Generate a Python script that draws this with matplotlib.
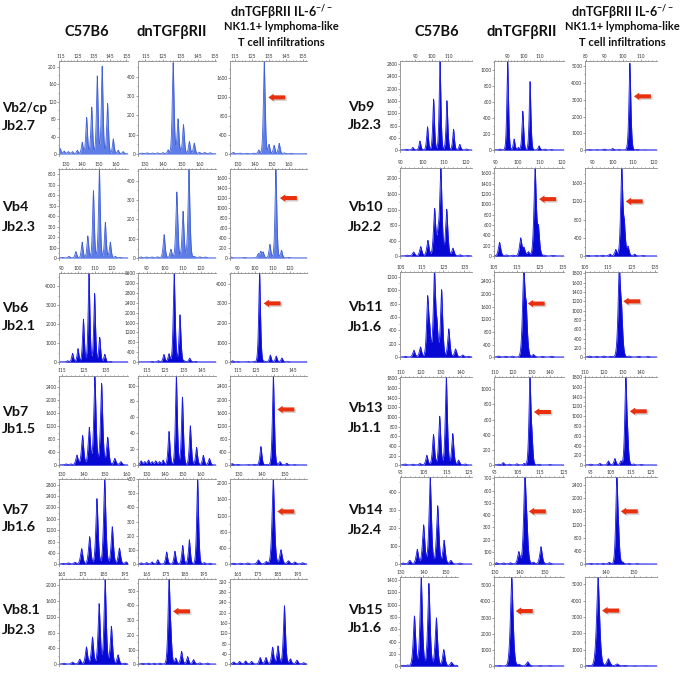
import numpy as np
import matplotlib
matplotlib.use('Agg')
import matplotlib.pyplot as plt
from matplotlib.ticker import AutoMinorLocator, FixedLocator
from matplotlib.transforms import offset_copy

# ------------------------------------------------------------------ data
# column headers and row labels
col_headers = ['C57B6', 'dnTGFβRII']
col3_header = ['dnTGFβRII IL-6$^{-/-}$', 'NK1.1+ lymphoma-like', 'T cell infiltrations']
left_labels = [('Vb2/cp', 'Jb2.7'), ('Vb4', 'Jb2.3'), ('Vb6', 'Jb2.1'),
               ('Vb7', 'Jb1.5'), ('Vb7', 'Jb1.6'), ('Vb8.1', 'Jb2.3')]
right_labels = [('Vb9', 'Jb2.3'), ('Vb10', 'Jb2.2'), ('Vb11', 'Jb1.6'),
                ('Vb13', 'Jb1.1'), ('Vb14', 'Jb2.4'), ('Vb15', 'Jb1.6')]

# ---- Vb2/cp Jb2.7
vb2_c57_x = [114.5, 117, 119.5, 122, 125, 128, 130.7, 133.8, 137.2, 140.2, 143.5, 147, 150, 153]
vb2_c57_h = [12, 6, 5, 5, 8, 26, 83, 107, 178, 200, 115, 34, 8, 5]
vb2_dn_x = [113, 116, 119, 122, 125, 128, 130.9, 133.7, 136.8, 140.2, 143, 146, 149, 152]
vb2_dn_h = [4, 5, 4, 5, 6, 20, 470, 180, 150, 63, 55, 8, 7, 6]
vb2_il6_x = [114, 118, 122, 126, 129, 132.2, 135, 138, 141, 144, 148]
vb2_il6_h = [30, 15, 10, 15, 80, 1970, 200, 180, 220, 20, 10]
vb2_xticks = [[115, 125, 135, 145, 155]] * 3
vb2_xlims = [(113.8, 156), (110.7, 155.5), (112, 157.4)]
vb2_ytops = [213, 480, 1970]
vb2_ysteps = [40, 100, 400]
vb2_arrows = [None, None, 1200]

# ---- Vb4 Jb2.3
vb4_c57_x = [128, 132, 136.2, 140, 143.4, 146.8, 150.4, 154, 157, 160, 163]
vb4_c57_h = [5, 15, 60, 150, 210, 640, 850, 340, 150, 15, 5]
vb4_dn_x = [128, 131, 134, 137, 140.6, 144.3, 147.5, 150.9, 154.1, 157, 160, 163]
vb4_dn_h = [5, 5, 5, 6, 120, 45, 340, 240, 460, 8, 6, 5]
vb4_il6_x = [126, 134, 142.1, 143.6, 145, 149, 152.5, 155.8, 160]
vb4_il6_h = [20, 10, 80, 120, 110, 270, 1780, 150, 10]
vb4_xticks = [[130, 140, 150, 160]] * 3
vb4_xlims = [(126, 167.7), (126.4, 168.8), (125.5, 170.8)]
vb4_ytops = [850, 460, 1780]
vb4_ysteps = [100, 100, 200]
vb4_arrows = [None, None, 1200]

# ---- Vb6 Jb2.1
vb6_c57_x = [93.9, 96.8, 100, 103.2, 106.5, 109.8, 112.8, 115.8, 119]
vb6_c57_h = [60, 450, 700, 2250, 4700, 3600, 1300, 400, 30]
vb6_dn_x = [93, 96.5, 99.6, 102.4, 105.3, 108.5, 111, 113.9, 117]
vb6_dn_h = [20, 50, 300, 330, 3600, 1900, 40, 150, 20]
vb6_il6_x = [87, 90, 96, 99.5, 102.6, 105.5, 108.8, 112.2, 115.5, 119]
vb6_il6_h = [60, 20, 15, 20, 4550, 40, 350, 300, 200, 15]
vb6_xticks = [[90, 100, 110, 120]] * 3
vb6_xlims = [(88.8, 129.5), (85.2, 128.5), (85.5, 130)]
vb6_ytops = [4700, 3600, 4550]
vb6_ysteps = [1000, 400, 1000]
vb6_arrows = [None, None, 3000]

# ---- Vb7 Jb1.5
vb7a_c57_x = [116.8, 119.1, 121.9, 124.5, 127.6, 130.2, 133.3, 136.1, 139.4, 142.2]
vb7a_c57_h = [30, 30, 300, 900, 1150, 2740, 2500, 850, 200, 100]
vb7a_dn_x = [112, 114, 116, 118, 120, 122, 124, 127.2, 131.2, 134.5, 138.8, 142.2, 145.9, 149.2]
vb7a_dn_h = [5, 4, 6, 4, 5, 4, 6, 42, 112, 85, 49, 22, 12, 8]
vb7a_il6_x = [112, 115, 121, 124, 127.7, 131, 134.5, 138.1, 141.8, 146]
vb7a_il6_h = [40, 15, 10, 20, 560, 20, 2720, 100, 50, 10]
vb7a_xticks = [[115, 125, 135], [115, 125, 135, 145], [115, 125, 135, 145]]
vb7a_xlims = [(113.6, 145.5), (110.3, 152.8), (110.8, 152.9)]
vb7a_ytops = [2740, 112, 2720]
vb7a_ysteps = [400, 20, 400]
vb7a_arrows = [None, None, 1700]

# ---- Vb7 Jb1.6
vb7b_c57_x = [130.5, 133, 136, 139.1, 142.8, 146.2, 149.8, 153.3, 156.6, 159.7]
vb7b_c57_h = [20, 40, 60, 540, 960, 2300, 3000, 1310, 560, 80]
vb7b_dn_x = [127, 130, 133, 136.2, 141.1, 145.7, 150, 153.7, 158.3, 162, 165]
vb7b_dn_h = [8, 10, 15, 30, 85, 90, 130, 170, 600, 10, 6]
vb7b_il6_x = [128, 131, 134, 138.6, 142, 145, 148.3, 151.5, 154.3, 157.6]
vb7b_il6_h = [20, 20, 25, 100, 60, 2100, 350, 80, 50, 30]
vb7b_xticks = [[130, 140, 150, 160]] * 3
vb7b_xlims = [(128.6, 160.6), (125.2, 168.5), (126.4, 159.5)]
vb7b_ytops = [3000, 600, 2100]
vb7b_ysteps = [400, 100, 400]
vb7b_arrows = [None, None, 1300]

# ---- Vb8.1 Jb2.3
vb81_c57_x = [166, 170.1, 173.6, 176.8, 179.7, 182.9, 185.8, 188.8, 192, 195.2]
vb81_c57_h = [20, 50, 120, 430, 680, 1520, 2150, 950, 230, 20]
vb81_dn_x = [163, 166, 169, 172, 176.8, 177.8, 180.4, 183.4, 186.6, 189.7, 193, 197]
vb81_dn_h = [5, 6, 5, 6, 580, 130, 40, 85, 50, 30, 8, 6]
vb81_il6_x = [163, 166, 169, 172, 176.3, 179.2, 182.5, 185.2, 188.4, 191.4, 194.7, 198]
vb81_il6_h = [8, 10, 12, 10, 25, 25, 65, 70, 225, 20, 15, 5]
vb81_xticks = [[165, 175, 185, 195]] * 3
vb81_xlims = [(163.6, 196.8), (160.5, 201.5), (161.2, 199.7)]
vb81_ytops = [2150, 580, 330]
vb81_ysteps = [400, 100, 40]
vb81_arrows = [None, 360, None]

# ---- Vb9 Jb2.3
vb9_c57_x = [84.5, 88.4, 92.7, 97.3, 101, 104.9, 109.1, 113.1, 116.9, 121]
vb9_c57_h = [20, 80, 290, 750, 1650, 2900, 1600, 670, 180, 30]
vb9_dn_x = [85, 89.9, 93.9, 96.5, 99.3, 103.8, 109.4, 113, 117]
vb9_dn_h = [10, 1110, 135, 30, 480, 850, 50, 10, 5]
vb9_il6_x = [82, 86, 90, 94.6, 98, 104, 108, 112]
vb9_il6_h = [20, 15, 50, 80, 20, 5150, 30, 10]
vb9_xticks = [[80, 90, 100, 110]] * 3
vb9_xlims = [(80.6, 124.3), (81.4, 124.9), (79.5, 118.8)]
vb9_ytops = [2900, 1110, 5300]
vb9_ysteps = [400, 200, 1000]
vb9_arrows = [None, None, 3200]

# ---- Vb10 Jb2.2
vb10_c57_x = [93, 96, 99.3, 102.6, 105.7, 107.3, 108.6, 111.3, 114.2, 117.5, 121]
vb10_c57_h = [20, 100, 240, 400, 1200, 500, 2270, 1200, 200, 30, 10]
vb10_dn_x = [92, 95, 98, 101.5, 103, 105, 108, 109.5, 112, 116]
vb10_dn_h = [260, 20, 15, 340, 150, 80, 1700, 500, 15, 10]
vb10_il6_x = [88, 92, 95, 98.7, 101.6, 104.5, 105.8, 107.6, 110.8, 115]
vb10_il6_h = [15, 10, 15, 40, 140, 1930, 600, 200, 40, 10]
vb10_xticks = [[90, 100, 110, 120]] * 3
vb10_xlims = [(89.7, 123), (89.5, 121), (86.5, 121.8)]
vb10_ytops = [2270, 1700, 1930]
vb10_ysteps = [400, 200, 400]
vb10_arrows = [None, 1100, 1200]

# ---- Vb11 Jb1.6
vb11_c57_x = [107, 111.1, 114.2, 117.6, 118.6, 120.8, 122, 124.2, 127.6, 130.8, 134.2, 137]
vb11_c57_h = [10, 100, 150, 850, 300, 1270, 400, 1000, 420, 120, 30, 10]
vb11_dn_x = [107, 110, 113, 117.9, 119, 122.1, 126, 130]
vb11_dn_h = [30, 20, 25, 2700, 1300, 80, 20, 25]
vb11_il6_x = [107, 110, 113, 116, 119.7, 120.7, 124, 128, 132]
vb11_il6_h = [20, 15, 20, 15, 1830, 750, 20, 15, 10]
vb11_xticks = [[105, 115, 125, 135]] * 3
vb11_xlims = [(104.5, 138.6), (105, 135.4), (105, 135.9)]
vb11_ytops = [1270, 2700, 1830]
vb11_ysteps = [200, 400, 200]
vb11_arrows = [None, 1700, 1200]

# ---- Vb13 Jb1.1
vb13_c57_x = [112, 116, 119.5, 122.9, 126.2, 129.3, 132.6, 135.8, 138.7, 142]
vb13_c57_h = [20, 15, 30, 200, 630, 1010, 1830, 650, 100, 20]
vb13_dn_x = [112, 114.5, 118, 122, 126, 129.1, 130.2, 134, 140]
vb13_dn_h = [10, 30, 10, 15, 20, 1160, 270, 10, 5]
vb13_il6_x = [113, 118, 122.5, 126, 129.2, 131.8, 132.8, 136, 140]
vb13_il6_h = [15, 30, 80, 130, 80, 1800, 380, 20, 10]
vb13_xticks = [[110, 120, 130, 140]] * 3
vb13_xlims = [(109.5, 145.4), (109.5, 147.7), (110, 148.5)]
vb13_ytops = [1830, 1160, 1800]
vb13_ysteps = [200, 200, 200]
vb13_arrows = [None, 700, 1100]

# ---- Vb14 Jb2.4
vb14_c57_x = [96, 98.9, 102.2, 105, 107.9, 111.2, 114, 117, 121]
vb14_c57_h = [5, 20, 80, 215, 480, 320, 130, 20, 5]
vb14_dn_x = [96, 99, 102, 105.7, 108.3, 109.2, 112, 115.3, 119]
vb14_dn_h = [10, 8, 10, 100, 710, 200, 15, 140, 10]
vb14_il6_x = [95, 98, 101, 104.1, 107.9, 108.8, 110.8, 114, 118]
vb14_il6_h = [15, 10, 20, 50, 2640, 500, 60, 15, 10]
vb14_xticks = [[95, 105, 115, 125]] * 3
vb14_xlims = [(94.6, 126.3), (94.9, 125.3), (92, 128)]
vb14_ytops = [480, 710, 2640]
vb14_ysteps = [100, 100, 400]
vb14_arrows = [None, 430, 1600]

# ---- Vb15 Jb1.6
vb15_c57_x = [131, 132.9, 136, 139, 142.4, 145.7, 149, 152.4, 154.5]
vb15_c57_h = [10, 15, 810, 1450, 1340, 780, 265, 60, 10]
vb15_dn_x = [132, 136.9, 139.8, 143.2, 148, 152]
vb15_dn_h = [20, 5500, 100, 250, 20, 15]
vb15_il6_x = [134, 137.3, 140.9, 144, 146.7, 150, 154]
vb15_il6_h = [20, 5450, 440, 120, 30, 15, 10]
vb15_xticks = [[130, 140, 150]] * 3
vb15_xlims = [(129.6, 155.3), (129.9, 157.5), (132.7, 158)]
vb15_ytops = [1450, 5500, 5450]
vb15_ysteps = [200, 1000, 1000]
vb15_arrows = [None, 3400, 3400]

# ------------------------------------------------------------------ layout
W, H, DPI = 686, 674, 100
plt.rcParams['font.family'] = ['Lato', 'DejaVu Sans']
plt.rcParams['mathtext.fontset'] = 'custom'
plt.rcParams['mathtext.rm'] = 'Lato:bold'
plt.rcParams['mathtext.default'] = 'rm'

fig = plt.figure(figsize=(W / DPI, H / DPI), dpi=DPI, facecolor='white')

L_rows = [(61, 156), (169, 260), (273, 364), (376, 467), (479, 566), (579, 666)]
R_rows = [(61, 152), (168, 258), (272, 359), (377, 467), (477, 566), (577, 668)]
L_cols = [(59, 128), (138, 216), (230, 307)]
R_cols = [(400, 472), (494, 564), (585, 657)]
L_label_y = [(108, 126), (207, 227), (308, 326), (412, 429), (510, 527), (610, 630)]
R_label_y = [(107, 125), (207, 227), (307, 327), (408, 428), (510, 530), (610, 628)]

left_rows = [
    (vb2_c57_x, vb2_c57_h, vb2_dn_x, vb2_dn_h, vb2_il6_x, vb2_il6_h, vb2_xticks, vb2_xlims, vb2_ytops, vb2_ysteps, vb2_arrows),
    (vb4_c57_x, vb4_c57_h, vb4_dn_x, vb4_dn_h, vb4_il6_x, vb4_il6_h, vb4_xticks, vb4_xlims, vb4_ytops, vb4_ysteps, vb4_arrows),
    (vb6_c57_x, vb6_c57_h, vb6_dn_x, vb6_dn_h, vb6_il6_x, vb6_il6_h, vb6_xticks, vb6_xlims, vb6_ytops, vb6_ysteps, vb6_arrows),
    (vb7a_c57_x, vb7a_c57_h, vb7a_dn_x, vb7a_dn_h, vb7a_il6_x, vb7a_il6_h, vb7a_xticks, vb7a_xlims, vb7a_ytops, vb7a_ysteps, vb7a_arrows),
    (vb7b_c57_x, vb7b_c57_h, vb7b_dn_x, vb7b_dn_h, vb7b_il6_x, vb7b_il6_h, vb7b_xticks, vb7b_xlims, vb7b_ytops, vb7b_ysteps, vb7b_arrows),
    (vb81_c57_x, vb81_c57_h, vb81_dn_x, vb81_dn_h, vb81_il6_x, vb81_il6_h, vb81_xticks, vb81_xlims, vb81_ytops, vb81_ysteps, vb81_arrows),
]
right_rows = [
    (vb9_c57_x, vb9_c57_h, vb9_dn_x, vb9_dn_h, vb9_il6_x, vb9_il6_h, vb9_xticks, vb9_xlims, vb9_ytops, vb9_ysteps, vb9_arrows),
    (vb10_c57_x, vb10_c57_h, vb10_dn_x, vb10_dn_h, vb10_il6_x, vb10_il6_h, vb10_xticks, vb10_xlims, vb10_ytops, vb10_ysteps, vb10_arrows),
    (vb11_c57_x, vb11_c57_h, vb11_dn_x, vb11_dn_h, vb11_il6_x, vb11_il6_h, vb11_xticks, vb11_xlims, vb11_ytops, vb11_ysteps, vb11_arrows),
    (vb13_c57_x, vb13_c57_h, vb13_dn_x, vb13_dn_h, vb13_il6_x, vb13_il6_h, vb13_xticks, vb13_xlims, vb13_ytops, vb13_ysteps, vb13_arrows),
    (vb14_c57_x, vb14_c57_h, vb14_dn_x, vb14_dn_h, vb14_il6_x, vb14_il6_h, vb14_xticks, vb14_xlims, vb14_ytops, vb14_ysteps, vb14_arrows),
    (vb15_c57_x, vb15_c57_h, vb15_dn_x, vb15_dn_h, vb15_il6_x, vb15_il6_h, vb15_xticks, vb15_xlims, vb15_ytops, vb15_ysteps, vb15_arrows),
]

LIGHT = ('#5f7de6', '#3f5fd8')
DARK = ('#0808d4', '#1a1ae8')
TICK_C = '#555555'


def add_axes_px(x0, y0, x1, y1):
    return fig.add_axes([x0 / W, 1 - y1 / H, (x1 - x0) / W, (y1 - y0) / H])


def draw_panel(ax, px, ph, xticks, xlim, ytop, ystep, arrow_y, colors, width=0.75):
    xs = np.linspace(xlim[0], xlim[1], 3000)
    ys = np.zeros_like(xs)
    for p, h in zip(px, ph):
        ys += h * np.exp(-(np.abs(xs - p) / width) ** 1.5)
    ys += ytop * 0.004
    ax.fill_between(xs, 0, ys, color=colors[0], lw=0)
    ax.plot(xs, ys, color=colors[1], lw=0.6)
    ax.set_xlim(*xlim)
    ax.set_ylim(-ytop * 0.02, ytop)
    ax.xaxis.set_major_locator(FixedLocator(xticks))
    ax.set_yticks(np.arange(0, ytop + 1e-9, ystep))
    ax.xaxis.set_minor_locator(AutoMinorLocator(5))
    ax.yaxis.set_minor_locator(AutoMinorLocator(2))
    ax.xaxis.tick_top()
    ax.tick_params(axis='both', which='both', direction='out', colors=TICK_C,
                   labelsize=3.4, pad=0.4, width=0.4)
    ax.tick_params(axis='both', which='major', length=1.4)
    ax.tick_params(axis='both', which='minor', length=0.8)
    ax.tick_params(axis='x', labelcolor='#333333')
    ax.tick_params(axis='y', labelcolor='#333333')
    for s in ('right', 'bottom'):
        ax.spines[s].set_visible(False)
    for s in ('left', 'top'):
        ax.spines[s].set_color('#8a8a8a')
        ax.spines[s].set_linewidth(0.6)
    ax.set_facecolor('white')
    if arrow_y is not None:
        peak_x = px[int(np.argmax(ph))]
        for dx, dy, c, a in ((1.5, -1.5, '#888888', 0.35), (0, 0, '#e8300e', 1.0)):
            tr = offset_copy(ax.transData, fig=fig, x=4 + dx, y=dy, units='dots')
            ax.annotate('', xy=(peak_x, arrow_y), xycoords=tr,
                        xytext=(17, 0), textcoords='offset pixels',
                        arrowprops=dict(arrowstyle='simple,head_length=0.55,head_width=0.75,tail_width=0.42',
                                        fc=c, ec='none', alpha=a, shrinkA=0, shrinkB=0,
                                        mutation_scale=7),
                        annotation_clip=False)


for group, rows_px, cols_px, labels, lab_x, lab_y in (
        (left_rows, L_rows, L_cols, left_labels, 2, L_label_y),
        (right_rows, R_rows, R_cols, right_labels, 348, R_label_y)):
    for r, spec in enumerate(group):
        (cx, ch, dx_, dh, ix, ih, xt, xl, yt, ysp, arr) = spec
        y0, y1 = rows_px[r]
        for c, (pxs, phs) in enumerate(((cx, ch), (dx_, dh), (ix, ih))):
            x0, x1 = cols_px[c]
            if group is right_rows and r == 5 and c == 0:
                x1 = 458
            ax = add_axes_px(x0, y0, x1, y1)
            colors = LIGHT if (group is left_rows and r < 2) else DARK
            draw_panel(ax, pxs, phs, xt[c], xl[c], yt[c], ysp[c], arr[c], colors)
        for k in range(2):
            fs = 9.6 if len(labels[r][k]) > 5 else 10.3
            fig.text(lab_x / W, 1 - lab_y[r][k] / H, labels[r][k], fontsize=fs,
                     fontweight='bold', ha='left', va='center', color='#111111')

# headers
for xc1, xc2, xc3 in ((87, 172, 281), (437, 522, 622)):
    fig.text(xc1 / W, 1 - 32 / H, col_headers[0], fontsize=10.5, fontweight='bold',
             ha='center', va='center', color='#111111')
    fig.text(xc2 / W, 1 - 32 / H, col_headers[1], fontsize=10.5, fontweight='bold',
             ha='center', va='center', color='#111111')
    fig.text(xc3 / W, 1 - 12 / H, col3_header[0], fontsize=9, fontweight='bold',
             ha='center', va='center', color='#111111')
    fig.text(xc3 / W, 1 - 27 / H, col3_header[1], fontsize=8, fontweight='bold',
             ha='center', va='center', color='#111111')
    fig.text(xc3 / W, 1 - 42 / H, col3_header[2], fontsize=8, fontweight='bold',
             ha='center', va='center', color='#111111')

fig.savefig('out.png', dpi=DPI, facecolor='white')
